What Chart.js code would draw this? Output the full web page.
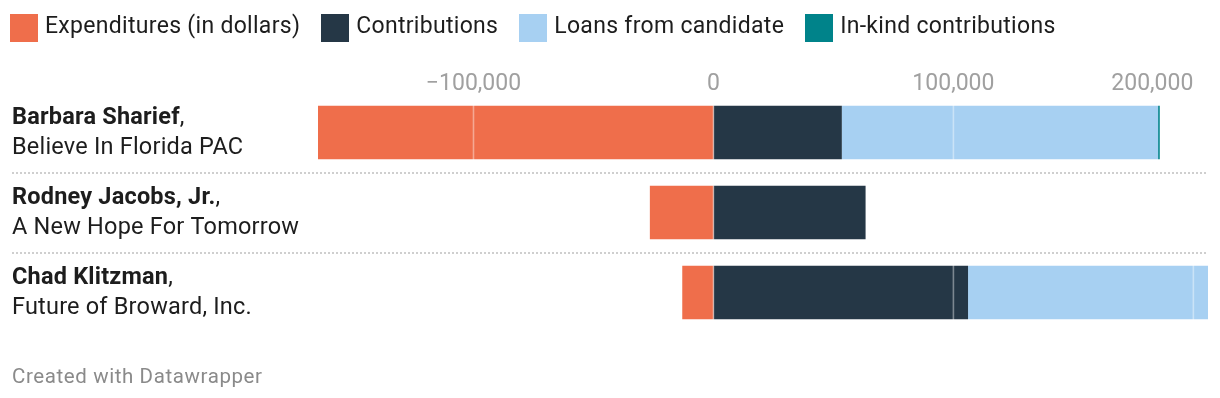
<!DOCTYPE html>
<html><head><meta charset="utf-8">
<script src="https://cdn.jsdelivr.net/npm/chart.js@4/dist/chart.umd.min.js"></script>
<style>
html,body{margin:0;padding:0;background:#fff;width:1220px;height:398px;overflow:hidden;font-family:Roboto,sans-serif;}
#wrap{position:relative;width:1220px;height:398px;}
#legend{position:absolute;left:10px;top:14px;display:flex;}
.item{display:flex;align-items:center;margin-right:21px;height:28px;}
.box{width:28px;height:28px;flex:none;}
.lab{margin-left:7px;font-size:23px;letter-spacing:0.3px;color:#1d1d1d;line-height:28px;position:relative;top:-2px;white-space:nowrap;}
#footer{position:absolute;left:12px;top:366px;font-size:20.5px;letter-spacing:0.6px;line-height:20px;color:#8a8a8a;white-space:nowrap;}
canvas{position:absolute;left:0;top:0;}
</style></head><body>
<div id="wrap"><canvas id="c" width="1220" height="398"></canvas><div id="legend"></div><div id="footer">Created with Datawrapper</div></div>
<script>
// ---- data ----
const names = ['Barbara Sharief', 'Rodney Jacobs, Jr.', 'Chad Klitzman'];
const committees = ['Believe In Florida PAC', 'A New Hope For Tomorrow', 'Future of Broward, Inc.'];
const seriesNames = ['Expenditures (in dollars)', 'Contributions', 'Loans from candidate', 'In-kind contributions'];
const expenditures = [-164800, -26500, -13000];
const contributions = [53500, 63400, 106100];
const loans = [131800, 0, 100000];
const inKind = [700, 0, 0];
const tickValues = [-100000, 0, 100000, 200000];

// ---- styles ----
const colors = ['#ef6e4b', '#253746', '#a7d0f2', '#00838a'];
const series = [expenditures, contributions, loans, inKind];

const xMin = Math.min(...expenditures);
const xMax = Math.max(...names.map((_, i) => contributions[i] + loans[i] + inKind[i]));

function fmt(v) {
  const s = Math.abs(v).toLocaleString('en-US');
  return v < 0 ? '\u2212' + s : s;
}

const overlay = {
  id: 'overlay',
  afterDatasetsDraw(chart) {
    const { ctx, chartArea: ca, scales: { x, y } } = chart;
    ctx.save();
    // grid lines over bars
    ctx.strokeStyle = 'rgba(255,255,255,0.4)';
    ctx.lineWidth = 1.6;
    tickValues.forEach(v => {
      const px = x.getPixelForValue(v);
      ctx.beginPath(); ctx.moveTo(px, ca.top); ctx.lineTo(px, ca.bottom); ctx.stroke();
    });
    // dotted separators
    ctx.strokeStyle = '#cfcfcf';
    ctx.lineWidth = 2;
    ctx.setLineDash([2, 2]);
    for (let i = 0; i < names.length - 1; i++) {
      const py = Math.round((y.getPixelForValue(i) + y.getPixelForValue(i + 1)) / 2);
      ctx.beginPath(); ctx.moveTo(12, py); ctx.lineTo(ca.right, py); ctx.stroke();
    }
    ctx.setLineDash([]);
    // x tick labels (top)
    ctx.font = '23px Roboto';
    ctx.fillStyle = '#a0a0a0';
    ctx.textBaseline = 'alphabetic';
    tickValues.forEach(v => {
      const px = x.getPixelForValue(v);
      const t = fmt(v);
      const w = ctx.measureText(t).width;
      if (px + w / 2 > ca.right) { ctx.textAlign = 'right'; ctx.fillText(t, px, 90); }
      else { ctx.textAlign = 'center'; ctx.fillText(t, px, 90); }
    });
    // category labels
    ctx.textAlign = 'left';
    ctx.fillStyle = '#1d1d1d';
    ctx.letterSpacing = '0.2px';
    names.forEach((n, i) => {
      const cy = y.getPixelForValue(i);
      ctx.font = 'bold 23.5px Roboto';
      ctx.fillText(n, 12, cy - 8.5);
      const w = ctx.measureText(n).width;
      ctx.font = '23.5px Roboto';
      ctx.fillText(',', 12 + w, cy - 8.5);
      ctx.fillText(committees[i], 12, cy + 21);
    });
    ctx.restore();
  }
};

const chart = new Chart(document.getElementById('c'), {
  type: 'bar',
  data: {
    labels: names,
    datasets: seriesNames.map((s, k) => ({
      label: s,
      data: series[k],
      backgroundColor: colors[k],
      borderWidth: 0,
      barPercentage: 0.67,
      categoryPercentage: 1
    }))
  },
  options: {
    indexAxis: 'y',
    responsive: false,
    animation: false,
    devicePixelRatio: 1,
    layout: { padding: { top: 92.5, bottom: 65.5, left: 0, right: 12 } },
    plugins: { legend: { display: false }, tooltip: { enabled: false } },
    scales: {
      x: {
        stacked: true, position: 'top', min: xMin, max: xMax,
        ticks: { display: false }, grid: { display: false }, border: { display: false },
        afterFit: s => { s.height = 0; }
      },
      y: {
        stacked: true,
        ticks: { display: false }, grid: { display: false }, border: { display: false },
        afterFit: s => { s.width = 318; }
      }
    }
  },
  plugins: [overlay]
});

// HTML legend built from datasets
const leg = document.getElementById('legend');
chart.data.datasets.forEach(ds => {
  const it = document.createElement('div'); it.className = 'item';
  const b = document.createElement('div'); b.className = 'box'; b.style.background = ds.backgroundColor;
  const l = document.createElement('div'); l.className = 'lab'; l.textContent = ds.label;
  it.appendChild(b); it.appendChild(l); leg.appendChild(it);
});
</script>
</body></html>
